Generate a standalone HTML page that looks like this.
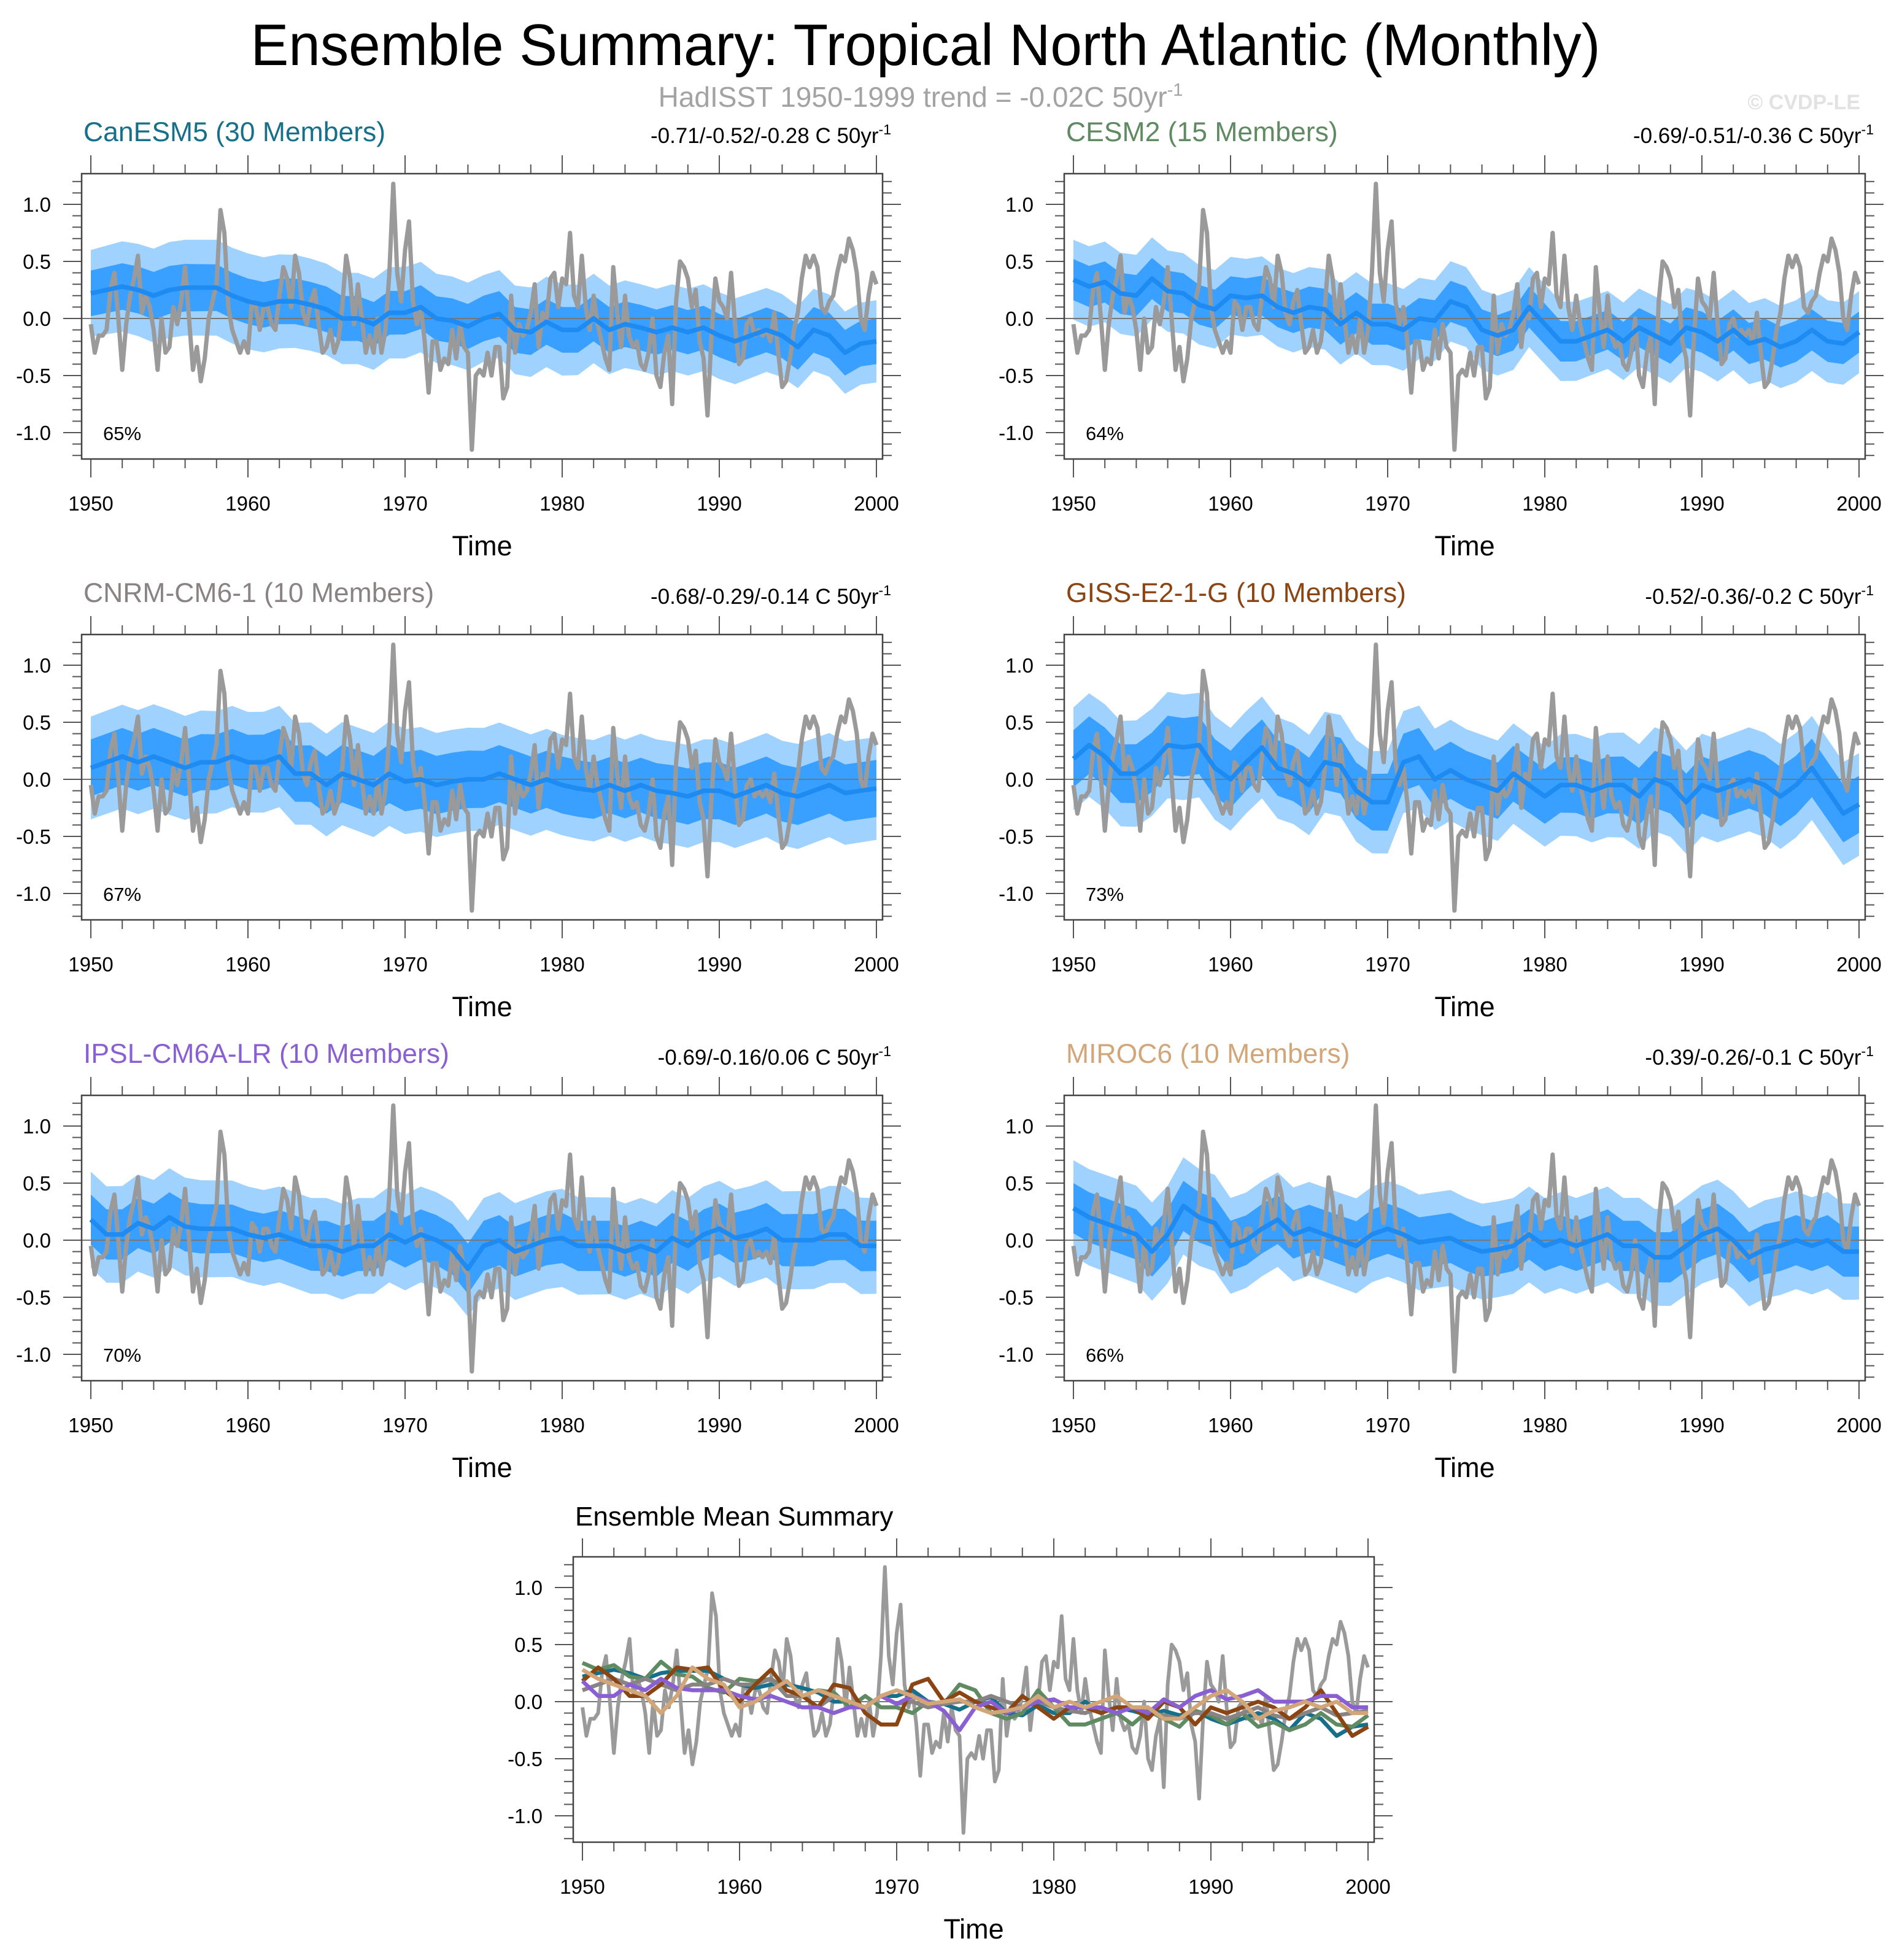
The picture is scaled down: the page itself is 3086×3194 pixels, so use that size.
<!DOCTYPE html>
<html><head><meta charset="utf-8"><title>Ensemble Summary: Tropical North Atlantic (Monthly)</title>
<style>
html,body{margin:0;padding:0;background:#fff;}
svg{display:block;font-family:"Liberation Sans",Arial,sans-serif;}
</style></head>
<body>
<svg id="chart" xmlns="http://www.w3.org/2000/svg" width="3086" height="3194" viewBox="0 0 3086 3194">
<rect x="0" y="0" width="3086" height="3194" fill="#fff"/>
<text x="1508" y="106" font-size="96" text-anchor="middle" textLength="2199" lengthAdjust="spacingAndGlyphs" fill="#000">Ensemble Summary: Tropical North Atlantic (Monthly)</text>
<text x="1500" y="174" font-size="46" text-anchor="middle" fill="#a3a3a3">HadISST 1950-1999 trend = -0.02C 50yr<tspan dy="-18" font-size="29">-1</tspan></text>
<text x="3031" y="178" font-size="34" font-weight="bold" text-anchor="end" fill="#e2e2e2">© CVDP-LE</text>
<g id="plots"></g>
</svg>
<script>
// ---- data ----
const yTickValues = [-1.0, -0.5, 0.0, 0.5, 1.0];
const yTickLabels = ["-1.0", "-0.5", "0.0", "0.5", "1.0"];
const xTickYears = [1950, 1960, 1970, 1980, 1990, 2000];
const xTickLabels = ["1950", "1960", "1970", "1980", "1990", "2000"];
const spreadYears = [1950, 1955, 1960, 1965, 1970, 1975, 1980, 1985, 1990, 1995, 2000];

// HadISST observed anomaly (quarterly, 1950-2000)
const obsValues = [
-0.05,-0.3,-0.15,-0.15,-0.1,0.25,0.4,0.0,-0.45,-0.05,0.2,0.35,0.55,0.05,0.2,0.1,-0.1,-0.45,0.0,-0.3,-0.25,0.1,-0.05,0.15,0.45,0.0,-0.45,-0.25,-0.55,-0.35,0.0,0.15,0.3,0.95,0.75,0.1,-0.1,-0.2,-0.3,-0.2,-0.3,0.15,0.1,-0.1,0.1,0.1,-0.05,-0.1,0.2,0.45,0.35,
0.1,0.55,0.4,0.05,-0.05,0.15,0.25,-0.05,-0.3,-0.25,-0.1,-0.3,-0.2,0.1,0.55,0.35,-0.05,0.3,0.0,-0.3,-0.15,-0.3,0.0,-0.3,-0.1,0.4,1.18,0.4,0.15,0.6,0.85,0.15,-0.05,0.1,-0.2,-0.65,-0.2,-0.2,-0.45,-0.35,-0.4,-0.1,-0.35,-0.05,-0.25,-0.3,-1.15,-0.5,-0.45,-0.5,
-0.3,-0.5,-0.25,-0.25,-0.7,-0.6,0.2,-0.3,-0.05,-0.15,-0.1,0.05,0.3,-0.25,0.05,0.0,0.35,0.4,0.1,0.35,0.3,0.75,0.2,0.1,0.55,0.1,-0.1,0.2,-0.05,-0.2,-0.35,-0.45,0.45,0.05,-0.25,0.2,-0.15,-0.25,-0.2,-0.4,-0.45,-0.3,0.0,-0.5,-0.6,-0.3,-0.15,-0.75,0.15,0.5,
0.45,0.35,0.1,0.25,-0.2,-0.35,-0.85,-0.15,0.35,0.15,0.1,0.0,0.4,-0.05,-0.4,-0.35,-0.05,0.0,-0.15,-0.1,-0.15,-0.1,-0.2,0.05,-0.3,-0.6,-0.55,-0.35,-0.1,0.05,0.35,0.55,0.45,0.55,0.45,0.1,0.05,0.15,0.2,0.4,0.55,0.5,0.7,0.6,0.4,0.0,-0.1,0.2,0.4,0.3
];

// Ensemble means (annual, 1950-2000)
const canesm5Mean = [0.22,0.25,0.28,0.25,0.2,0.25,0.27,0.27,0.27,0.2,0.15,0.12,0.15,0.15,0.12,0.08,0.0,0.0,-0.05,0.05,0.05,0.1,0.0,-0.02,-0.07,0.0,0.04,-0.1,-0.12,-0.03,-0.1,-0.1,0.0,-0.1,-0.05,-0.08,-0.12,-0.08,-0.12,-0.08,-0.15,-0.2,-0.15,-0.1,-0.15,-0.25,-0.1,-0.15,-0.3,-0.22,-0.2];
const cesm2Mean = [0.34,0.28,0.32,0.22,0.2,0.35,0.24,0.22,0.12,0.08,0.2,0.18,0.2,0.1,0.05,0.1,0.08,-0.05,0.05,-0.05,-0.05,-0.1,0.0,-0.02,0.15,0.1,-0.1,-0.15,-0.1,0.1,-0.05,-0.2,-0.2,-0.15,-0.1,-0.2,-0.08,-0.15,-0.22,-0.08,-0.12,-0.2,-0.1,-0.22,-0.18,-0.25,-0.2,-0.1,-0.2,-0.22,-0.12];
const cnrmMean = [0.1,0.15,0.2,0.15,0.2,0.15,0.1,0.15,0.15,0.2,0.15,0.15,0.2,0.05,0.05,-0.05,0.05,0.0,-0.05,0.05,-0.02,0.0,-0.05,-0.02,0.0,0.0,0.05,0.0,-0.05,0.0,-0.05,-0.08,-0.1,-0.05,-0.1,-0.05,-0.1,-0.12,-0.15,-0.1,-0.1,-0.15,-0.1,-0.05,-0.12,-0.15,-0.1,-0.05,-0.12,-0.1,-0.08];
const gissMean = [0.18,0.3,0.2,0.05,0.05,0.15,0.3,0.28,0.3,0.1,0.0,0.15,0.28,0.1,0.05,-0.05,0.15,0.12,-0.1,-0.2,-0.2,0.15,0.2,0.0,0.08,0.0,-0.05,-0.1,0.05,-0.05,-0.15,-0.05,-0.05,-0.1,-0.05,-0.05,-0.15,0.0,-0.05,-0.2,-0.05,-0.1,-0.05,0.0,-0.05,-0.15,-0.05,0.1,-0.1,-0.3,-0.22];
const ipslMean = [0.18,0.05,0.05,0.15,0.1,0.2,0.12,0.1,0.1,0.1,0.05,0.02,0.05,0.0,-0.05,-0.05,-0.1,-0.05,-0.05,0.05,-0.02,0.05,0.0,-0.08,-0.25,-0.05,0.0,-0.1,-0.05,0.0,0.02,-0.05,-0.05,-0.05,-0.1,-0.05,-0.1,0.02,-0.05,0.05,0.1,0.02,0.05,0.1,0.0,0.0,0.0,0.05,0.05,-0.05,-0.05];
const mirocMean = [0.28,0.2,0.15,0.1,0.05,-0.1,0.05,0.3,0.2,0.15,-0.05,0.0,0.1,0.18,0.05,0.1,0.05,0.0,-0.05,0.05,0.1,0.05,-0.02,0.0,0.02,-0.05,-0.1,-0.08,-0.05,0.05,-0.05,0.0,-0.05,0.0,0.05,-0.05,-0.05,-0.15,-0.15,-0.05,0.05,0.1,0.0,-0.15,-0.08,-0.05,0.0,-0.05,0.0,-0.1,-0.1];

// Ensemble spread half-widths (inner and outer envelopes, every 5 yr)
const canesm5Inner = [0.2,0.21,0.2,0.2,0.19,0.2,0.2,0.2,0.19,0.2,0.2];
const canesm5Outer = [0.38,0.42,0.42,0.4,0.4,0.38,0.4,0.38,0.38,0.36,0.36];
const cesm2Inner = [0.18,0.18,0.17,0.18,0.18,0.18,0.18,0.17,0.18,0.18,0.18];
const cesm2Outer = [0.35,0.36,0.34,0.35,0.36,0.35,0.35,0.34,0.35,0.36,0.36];
const cnrmInner = [0.25,0.25,0.24,0.25,0.26,0.25,0.25,0.24,0.25,0.25,0.25];
const cnrmOuter = [0.45,0.46,0.44,0.45,0.46,0.45,0.44,0.45,0.45,0.46,0.45];
const gissInner = [0.25,0.26,0.25,0.24,0.25,0.25,0.24,0.25,0.25,0.26,0.25];
const gissOuter = [0.45,0.47,0.45,0.44,0.45,0.44,0.44,0.46,0.45,0.46,0.45];
const ipslInner = [0.22,0.22,0.21,0.22,0.22,0.22,0.22,0.22,0.22,0.23,0.22];
const ipslOuter = [0.42,0.43,0.42,0.42,0.42,0.42,0.43,0.42,0.42,0.43,0.42];
const mirocInner = [0.22,0.22,0.22,0.21,0.22,0.22,0.22,0.22,0.22,0.22,0.22];
const mirocOuter = [0.42,0.43,0.42,0.41,0.42,0.42,0.42,0.42,0.43,0.43,0.42];

const modelNames = ["CanESM5 (30 Members)","CESM2 (15 Members)","CNRM-CM6-1 (10 Members)","GISS-E2-1-G (10 Members)","IPSL-CM6A-LR (10 Members)","MIROC6 (10 Members)"];
const modelTrends = ["-0.71/-0.52/-0.28 C 50yr","-0.69/-0.51/-0.36 C 50yr","-0.68/-0.29/-0.14 C 50yr","-0.52/-0.36/-0.2 C 50yr","-0.69/-0.16/0.06 C 50yr","-0.39/-0.26/-0.1 C 50yr"];
const modelPercents = ["65%","64%","67%","73%","70%","66%"];

// ---- layout ----
const NS = "http://www.w3.org/2000/svg";
const root = document.getElementById("plots");
const W = 1305, H = 465;
const modelColors = ["#16708a","#5f8a62","#8a8383","#8b4513","#8a5fd4","#d2a679"];
const means = [canesm5Mean,cesm2Mean,cnrmMean,gissMean,ipslMean,mirocMean];
const inners = [canesm5Inner,cesm2Inner,cnrmInner,gissInner,ipslInner,mirocInner];
const outers = [canesm5Outer,cesm2Outer,cnrmOuter,gissOuter,ipslOuter,mirocOuter];
const slugs = ["canesm5","cesm2","cnrm-cm6-1","giss-e2-1-g","ipsl-cm6a-lr","miroc6"];
const panelPos = [[133,283],[1734,283],[133,1034],[1734,1034],[133,1785],[1734,1785]];

function mk(tag, attrs, parent){
  const el = document.createElementNS(NS, tag);
  for (const k in attrs) el.setAttribute(k, attrs[k]);
  parent.appendChild(el);
  return el;
}
function xs(p, yr){ return p.left + 15 + (yr - 1950) * 25.6; }
function ys(p, v){ return p.top + 236 - v * 186; }
function meanYear(arr, i){ return 1950 + i * 50 / (arr.length - 1); }
function spreadAt(arr, yr){
  const t = (yr - spreadYears[0]) / 5;
  const i = Math.min(Math.floor(t), arr.length - 2);
  const f = t - i;
  return arr[i] * (1 - f) + arr[i + 1] * f;
}
function linePath(p, arr){
  return arr.map((v,i)=> (i?"L":"M") + xs(p, meanYear(arr,i)).toFixed(1) + "," + ys(p, v).toFixed(1)).join(" ");
}
function bandPath(p, mean, spread){
  let up = [], lo = [];
  mean.forEach((v,i)=>{
    const yr = meanYear(mean,i);
    const s = spreadAt(spread, yr);
    up.push(xs(p,yr).toFixed(1)+","+ys(p, v + s).toFixed(1));
    lo.push(xs(p,yr).toFixed(1)+","+ys(p, v - s).toFixed(1));
  });
  return "M" + up.join(" L") + " L" + lo.reverse().join(" L") + " Z";
}

function drawAxes(p, g, slug){
  const clip = mk("clipPath", {id: "clip-" + slug}, g);
  mk("rect", {x: p.left, y: p.top, width: W, height: H}, clip);
  const tg = mk("g", {stroke: "#555", "stroke-width": 2}, g);
  
  
  for (let yr = 1950; yr <= 2000; yr += 2){
    const len = (yr % 10 === 0) ? 30 : 15;
    const x = xs(p, yr);
    mk("line", {x1: x, x2: x, y1: p.top, y2: p.top - len}, tg);
    mk("line", {x1: x, x2: x, y1: p.top + H, y2: p.top + H + len}, tg);
  }
  for (let k = -12; k <= 12; k++){
    const v = k / 10;
    const len = (k % 5 === 0) ? 30 : 15;
    const y = ys(p, v);
    if (y < p.top || y > p.top + H) continue;
    mk("line", {x1: p.left, x2: p.left - len, y1: y, y2: y}, tg);
    mk("line", {x1: p.left + W, x2: p.left + W + len, y1: y, y2: y}, tg);
  }
  yTickValues.forEach((v,i)=>{
    const t = mk("text", {x: p.left - 50, y: ys(p, v) + 12, "font-size": 33, "text-anchor": "end", fill: "#000"}, g);
    t.textContent = yTickLabels[i];
    
    
  });
  xTickYears.forEach((yr,i)=>{
    const t = mk("text", {x: xs(p, yr), y: p.top + H + 84, "font-size": 33, "text-anchor": "middle", fill: "#000"}, g);
    t.textContent = xTickLabels[i];
    
    
  });
  const tt = mk("text", {x: p.left + W / 2, y: p.top + H + 157, "font-size": 45, "text-anchor": "middle", fill: "#000"}, g);
  tt.textContent = "Time";
  
  
}
function drawFrame(p, g, slug){
  const f = mk("rect", {x: p.left, y: p.top, width: W, height: H, fill: "none", stroke: "#444", "stroke-width": 2.5}, g);
  
  
}

for (let m = 0; m < 6; m++){
  const p = {left: panelPos[m][0], top: panelPos[m][1]};
  const slug = slugs[m];
  const g = mk("g", {}, root);
  
  
  drawAxes(p, g, slug);
  const cg = mk("g", {"clip-path": "url(#clip-" + slug + ")"}, g);
  
  
  const ob = mk("path", {d: bandPath(p, means[m], outers[m]), fill: "#a0d2ff"}, cg);
  
  
  const ib = mk("path", {d: bandPath(p, means[m], inners[m]), fill: "#3aa0ff"}, cg);
  
  
  const z = mk("line", {x1: p.left, x2: p.left + W, y1: ys(p,0), y2: ys(p,0), stroke: "#777", "stroke-width": 2}, cg);
  
  
  const ol = mk("path", {d: linePath(p, obsValues), fill: "none", stroke: "#9a9a9a", "stroke-width": 7, "stroke-linejoin": "round"}, cg);
  
  
  const ml = mk("path", {d: linePath(p, means[m]), fill: "none", stroke: "#1e8bf2", "stroke-width": 7.5, "stroke-linejoin": "round"}, cg);
  
  
  drawFrame(p, g, slug);
  const ti = mk("text", {x: p.left + 3, y: p.top - 53, "font-size": 44.5, fill: modelColors[m]}, g);
  ti.textContent = modelNames[m];
  
  
  const tr = mk("text", {x: p.left + W + 14, y: p.top - 50, "font-size": 35, "text-anchor": "end", fill: "#000"}, g);
  tr.textContent = modelTrends[m];
  const sup = mk("tspan", {dy: -14, "font-size": 23}, tr);
  sup.textContent = "-1";
  
  
  const pc = mk("text", {x: p.left + 35, y: p.top + H - 31, "font-size": 31, fill: "#000"}, g);
  pc.textContent = modelPercents[m];
  
  
}

// summary panel
const ps = {left: 934, top: 2537};
const gs = mk("g", {}, root);


drawAxes(ps, gs, "summary");
const cs = mk("g", {"clip-path": "url(#clip-summary)"}, gs);


const sz = mk("line", {x1: ps.left, x2: ps.left + W, y1: ys(ps,0), y2: ys(ps,0), stroke: "#777", "stroke-width": 2}, cs);


const so = mk("path", {d: linePath(ps, obsValues), fill: "none", stroke: "#9a9a9a", "stroke-width": 6, "stroke-linejoin": "round"}, cs);


for (let m = 0; m < 6; m++){
  const l = mk("path", {d: linePath(ps, means[m]), fill: "none", stroke: modelColors[m], "stroke-width": 6.5, "stroke-linejoin": "round"}, cs);
  
  
}
drawFrame(ps, gs, "summary");
const st = mk("text", {x: ps.left + 3, y: ps.top - 51, "font-size": 44, fill: "#000"}, gs);
st.textContent = "Ensemble Mean Summary";


</script>
</body></html>
